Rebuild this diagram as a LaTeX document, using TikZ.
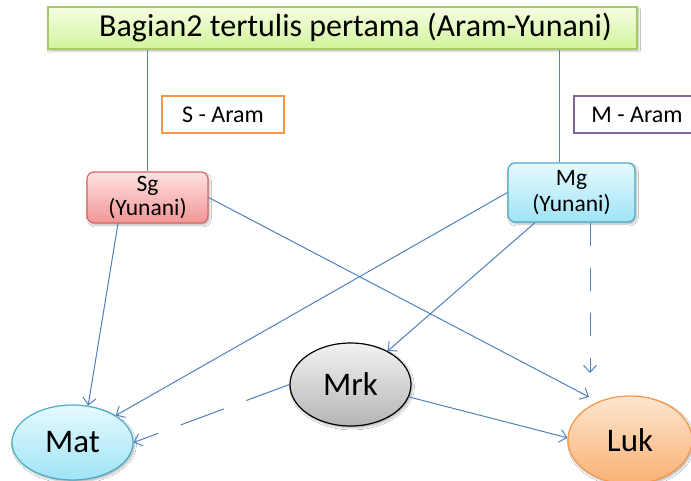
\documentclass[tikz,border=0pt]{standalone}
\usepackage{fontspec}
\setmainfont{Carlito}
\usetikzlibrary{arrows.meta,shadows.blur,calc,shapes.geometric}
\definecolor{arrowblue}{HTML}{4F81BD}
\definecolor{greenborder}{HTML}{A6C96A}
\definecolor{greentop}{HTML}{F5FEE3}
\definecolor{greenbot}{HTML}{D2F39A}
\definecolor{orangeborder}{HTML}{F79646}
\definecolor{purpleborder}{HTML}{8064A2}
\definecolor{redborder}{HTML}{D46A6A}
\definecolor{redtop}{HTML}{FFE2E2}
\definecolor{redbot}{HTML}{F29595}
\definecolor{cyanborder}{HTML}{4BACC6}
\definecolor{cyantop}{HTML}{E6F9FE}
\definecolor{cyanbot}{HTML}{A0E4F6}
\definecolor{graytop}{HTML}{F2F2F2}
\definecolor{graybot}{HTML}{B5B5B5}
\definecolor{luktop}{HTML}{FDE6D0}
\definecolor{lukbot}{HTML}{F9B173}
\begin{document}
\begin{tikzpicture}[x=1pt,y=-1pt,
  conn/.style={draw=arrowblue, line width=1pt},
  arr/.style={conn, -{Straight Barb[length=7pt,width=13pt,line width=1pt]}},
  shad/.style={blur shadow={shadow xshift=1.5pt,shadow yshift=-2pt,shadow opacity=30,shadow blur steps=4}},
  title/.style={draw=greenborder, line width=1.2pt, top color=greentop, bottom color=greenbot,
    minimum width=589pt, minimum height=42pt, inner sep=0pt, font=\fontsize{32}{36}\selectfont, shad},
  tagbox/.style={draw=#1, line width=2pt, fill=white, minimum height=37pt, inner sep=0pt,
    font=\fontsize{24}{28}\selectfont},
  gbox/.style={rounded corners=7pt, line width=1.2pt, inner sep=0pt, align=center,
    font=\fontsize{23.5}{26}\selectfont, shad},
  gell/.style={ellipse, line width=1.2pt, inner sep=0pt, font=\fontsize{33}{36}\selectfont, shad}
]
\useasboundingbox (0,0) rectangle (691,481);
\fill[white] (0,0) rectangle (691,481);

\node[title] (top) at (342.5,28) {\hspace*{26pt}Bagian2 tertulis pertama (Aram-Yunani)};

\node[tagbox=orangeborder, minimum width=122pt] (saram) at (223,114.5) {S - Aram};
\node[tagbox=purpleborder, minimum width=126pt] (maram) at (637,114.5) {M - Aram};

\node[gbox, draw=redborder, top color=redtop, bottom color=redbot,
      minimum width=121pt, minimum height=51pt] (Sg) at (147.5,197.5) {Sg\\[-2pt](Yunani)};
\node[gbox, draw=cyanborder, top color=cyantop, bottom color=cyanbot,
      minimum width=127pt, minimum height=59pt] (Mg) at (571.5,192.5) {Mg\\[0pt](Yunani)};

\node[gell, draw=black, top color=graytop, bottom color=graybot,
      minimum width=121pt, minimum height=83pt] (Mrk) at (350.5,384.5) {Mrk};
\node[gell, draw=cyanborder, top color=cyantop, bottom color=cyanbot,
      minimum width=121pt, minimum height=75pt] (Mat) at (72.5,442.5) {Mat};
\node[gell, draw=orangeborder, top color=luktop, bottom color=lukbot,
      minimum width=124pt, minimum height=88pt] (Luk) at (630,440) {Luk};

\coordinate (lukA) at (589,397);
\coordinate (lukB) at (590,373);

\draw[conn] (Sg.north |- top.south) -- (Sg.north);
\draw[conn] ([xshift=-12.5pt]Mg.north |- top.south) -- ([xshift=-12.5pt]Mg.north);

\draw[arr] ([xshift=-29.5pt]Sg.south) -- (Mat.67);
\draw[arr] (Sg.east) -- (lukA);
\draw[arr] (Mg.west) -- (Mat.32);
\draw[arr] ([xshift=-36.5pt]Mg.south) -- (Mrk.42);
\draw[arr, dash pattern=on 23pt off 22pt] ([xshift=18.5pt]Mg.south) -- (lukB);
\draw[arr, dash pattern=on 46pt off 24pt] (Mrk.west) -- (Mat.east);
\draw[arr] (Mrk.-12) -- (Luk.178);
\end{tikzpicture}
\end{document}
